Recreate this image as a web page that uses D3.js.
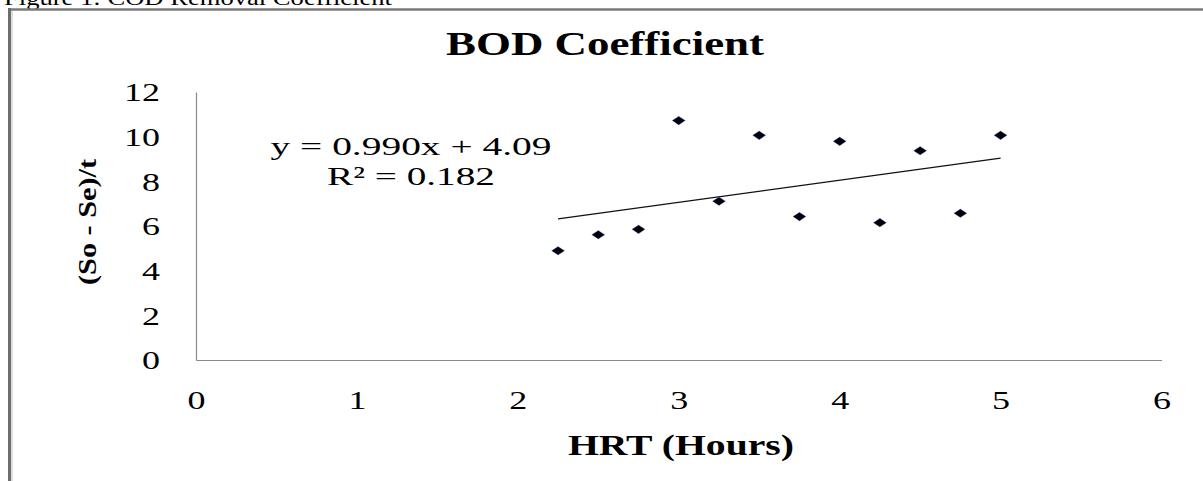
<!DOCTYPE html>
<html>
<head>
<meta charset="utf-8">
<script src="https://cdn.jsdelivr.net/npm/d3@7"></script>
<style>
  html, body { margin: 0; padding: 0; background: #fff; }
  svg { display: block; font-family: "Liberation Serif", "Times New Roman", serif; }
</style>
</head>
<body>
<svg id="chart" width="1203" height="481"></svg>
<script>
// ---- data ----
const hrt = [2.25, 2.5, 2.75, 3.0, 3.25, 3.5, 3.75, 4.0, 4.25, 4.5, 4.75, 5.0];
const coef = [4.89, 5.61, 5.85, 10.72, 7.11, 10.06, 6.42, 9.79, 6.15, 9.37, 6.57, 10.06];
const xTicks = [0, 1, 2, 3, 4, 5, 6];
const yTicks = [0, 2, 4, 6, 8, 10, 12];
const trendSlope = 0.990;
const trendIntercept = 4.09;
const trendRange = [2.25, 5.0];
const equationLines = ["y = 0.990x + 4.09", "R\u00B2 = 0.182"];
const chartTitle = "BOD Coefficient";
const xTitle = "HRT (Hours)";
const yTitle = "(So - Se)/t";
const captionText = "Figure 1: COD Removal Coefficient";

// ---- layout ----
const svg = d3.select("#chart");
const x = d3.scaleLinear().domain([0, 6]).range([196, 1161.5]);
const y = d3.scaleLinear().domain([0, 12]).range([360, 92]);
const serif = '"Liberation Serif", "Times New Roman", serif';

// document caption (clipped at the top)
svg.append("text")
  .attr("x", 4).attr("y", 5)
  .attr("font-size", 22)
  .attr("textLength", 388).attr("lengthAdjust", "spacingAndGlyphs")
  .attr("fill", "#000")
  .text(captionText);

// frame
svg.append("line").attr("x1", 8).attr("x2", 1203).attr("y1", 9.5).attr("y2", 9.5)
  .attr("stroke", "#7a7a7a").attr("stroke-width", 2.5);
svg.append("line").attr("x1", 9.5).attr("x2", 9.5).attr("y1", 8).attr("y2", 481)
  .attr("stroke", "#6e6e6e").attr("stroke-width", 3);
svg.append("line").attr("x1", 12).attr("x2", 12).attr("y1", 11).attr("y2", 481)
  .attr("stroke", "#c8c8c8").attr("stroke-width", 1.2);

// title
svg.append("text")
  .attr("x", 605).attr("y", 55)
  .attr("text-anchor", "middle")
  .attr("font-size", 33).attr("font-weight", "bold")
  .attr("textLength", 318).attr("lengthAdjust", "spacingAndGlyphs")
  .text(chartTitle);

// axes (lines only, no tick marks)
const gx = svg.append("g").attr("transform", `translate(0,${y(0)})`)
  .call(d3.axisBottom(x).tickValues(xTicks).tickSize(0).tickPadding(0).tickFormat(d3.format("d")));
const gy = svg.append("g").attr("transform", `translate(${x(0)},0)`)
  .call(d3.axisLeft(y).tickValues(yTicks).tickSize(0).tickPadding(0).tickFormat(d3.format("d")));

[gx, gy].forEach(g => {
  g.select(".domain").attr("stroke", "#8a8a8a").attr("stroke-width", 1.2);
  g.selectAll("text").attr("font-family", serif).attr("font-size", 25).attr("fill", "#000")
    .attr("lengthAdjust", "spacingAndGlyphs")
    .attr("textLength", function() { return this.textContent.length * 18; });
});
gx.selectAll(".tick text").attr("y", 40).attr("dy", "0.35em");
gy.selectAll(".tick text").attr("x", -36).attr("dy", "0.35em").attr("text-anchor", "end");

// axis titles
svg.append("text")
  .attr("x", 681).attr("y", 455)
  .attr("text-anchor", "middle")
  .attr("font-size", 29).attr("font-weight", "bold")
  .attr("textLength", 226).attr("lengthAdjust", "spacingAndGlyphs")
  .text(xTitle);

svg.append("text")
  .attr("transform", `translate(96,${(y(0) + y(12)) / 2 - 4}) rotate(-90)`)
  .attr("text-anchor", "middle")
  .attr("font-size", 25).attr("font-weight", "bold")
  .attr("textLength", 126).attr("lengthAdjust", "spacingAndGlyphs")
  .text(yTitle);

// trendline
svg.append("line")
  .attr("x1", x(trendRange[0])).attr("y1", y(trendSlope * trendRange[0] + trendIntercept))
  .attr("x2", x(trendRange[1])).attr("y2", y(trendSlope * trendRange[1] + trendIntercept))
  .attr("stroke", "#111").attr("stroke-width", 1.3);

// equation
const eq = svg.append("g");
equationLines.forEach((t, i) => {
  eq.append("text")
    .attr("x", 411).attr("y", 155 + i * 30)
    .attr("text-anchor", "middle")
    .attr("font-size", 26)
    .attr("textLength", i === 0 ? 281 : 168).attr("lengthAdjust", "spacingAndGlyphs")
    .text(t);
});

// diamond markers
const hw = 6.5, hh = 4.3;
const pts = hrt.map((h, i) => ({ h, v: coef[i] }));
svg.append("g").selectAll("path").data(pts).join("path")
  .attr("d", d => {
    const p = d3.path();
    const cx = x(d.h), cy = y(d.v);
    p.moveTo(cx - hw, cy); p.lineTo(cx, cy - hh); p.lineTo(cx + hw, cy); p.lineTo(cx, cy + hh); p.closePath();
    return p.toString();
  })
  .attr("fill", "#000010")
  .attr("stroke", "#5a7fb0").attr("stroke-width", 0.5).attr("stroke-opacity", 0.6);
</script>
</body>
</html>
